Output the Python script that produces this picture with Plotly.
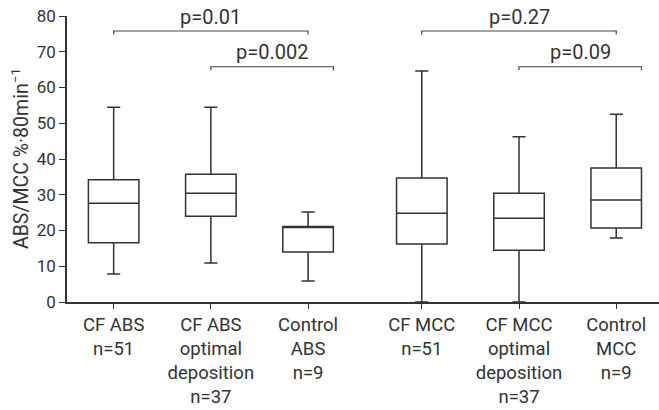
import plotly.graph_objects as go

# ---- data ----
categories = [
    "CF ABS<br>n=51",
    "CF ABS<br>optimal<br>deposition<br>n=37",
    "Control<br>ABS<br>n=9",
    "CF MCC<br>n=51",
    "CF MCC<br>optimal<br>deposition<br>n=37",
    "Control<br>MCC<br>n=9",
]
lower_whisker = [7.8, 10.9, 5.9, 0.0, 0.0, 17.9]
q1_values = [16.6, 24.0, 14.0, 16.2, 14.5, 20.7]
median_values = [27.6, 30.4, 21.1, 24.8, 23.4, 28.5]
q3_values = [34.2, 35.7, 21.1, 34.7, 30.4, 37.5]
upper_whisker = [54.5, 54.5, 25.2, 64.6, 46.2, 52.5]
y_ticks = [0, 10, 20, 30, 40, 50, 60, 70, 80]
y_title = "ABS/MCC %·80min<sup>−1</sup>"

# comparisons: (from index, to index, end at right box edge?, level, label)
comparisons = [
    (0, 2, False, 75.8, "p=0.01"),
    (1, 2, True, 65.8, "p=0.002"),
    (3, 5, False, 75.8, "p=0.27"),
    (4, 5, True, 65.8, "p=0.09"),
]

# ---- layout helpers ----
x_positions = [0, 1, 2, 3.17, 4.17, 5.17]
box_width = 0.52
ink = "#333333"
font_family = "Roboto, Liberation Sans, sans-serif"

fig = go.Figure()
for i, cat in enumerate(categories):
    fig.add_trace(go.Box(
        x=[x_positions[i]],
        lowerfence=[lower_whisker[i]],
        q1=[q1_values[i]],
        median=[median_values[i]],
        q3=[q3_values[i]],
        upperfence=[upper_whisker[i]],
        width=box_width,
        whiskerwidth=0.26,
        fillcolor="white",
        line=dict(color=ink, width=1.5),
        boxpoints=False,
        showlegend=False,
        hoverinfo="skip",
        name=cat.replace("<br>", " "),
    ))

shapes = []
annotations = []
for a, b, edge, level, label in comparisons:
    x0 = x_positions[a]
    x1 = x_positions[b] + (box_width / 2 if edge else 0)
    drop = 1.0
    shapes.append(dict(
        type="path",
        path=f"M {x0},{level - drop} L {x0},{level} L {x1},{level} L {x1},{level - drop}",
        xref="x", yref="y",
        line=dict(color="#444444", width=1.2),
    ))
    annotations.append(dict(
        x=(x0 + x1) / 2, y=level + 4.0, xref="x", yref="y",
        text=label, showarrow=False, yanchor="middle",
        font=dict(family=font_family, size=20, color=ink),
    ))

# y-axis title as a rotated annotation
annotations.append(dict(
    x=0, xref="paper", xshift=-47, y=40, yref="y",
    text=y_title, showarrow=False, textangle=-90,
    xanchor="center", yanchor="middle",
    font=dict(family=font_family, size=19.5, color=ink),
))

fig.update_layout(
    width=659, height=410,
    margin=dict(l=67, r=0, t=16, b=108),
    paper_bgcolor="white", plot_bgcolor="white",
    font=dict(family=font_family, size=17, color=ink),
    shapes=shapes,
    annotations=annotations,
    xaxis=dict(
        range=[-0.48, 5.61],
        tickvals=x_positions,
        ticktext=categories,
        showline=True, linecolor=ink, linewidth=1.5,
        ticks="outside", ticklen=5, tickcolor=ink, tickwidth=1.2,
        showgrid=False, zeroline=False,
        tickfont=dict(family=font_family, size=18.5, color=ink),
    ),
    yaxis=dict(
        range=[0, 80],
        tickvals=y_ticks,
        showline=True, linecolor=ink, linewidth=1.5,
        ticks="outside", ticklen=6, tickcolor=ink, tickwidth=1.2,
        showgrid=False, zeroline=False,
        tickfont=dict(family=font_family, size=17, color=ink),
    ),
)

fig.write_html("out.html")
